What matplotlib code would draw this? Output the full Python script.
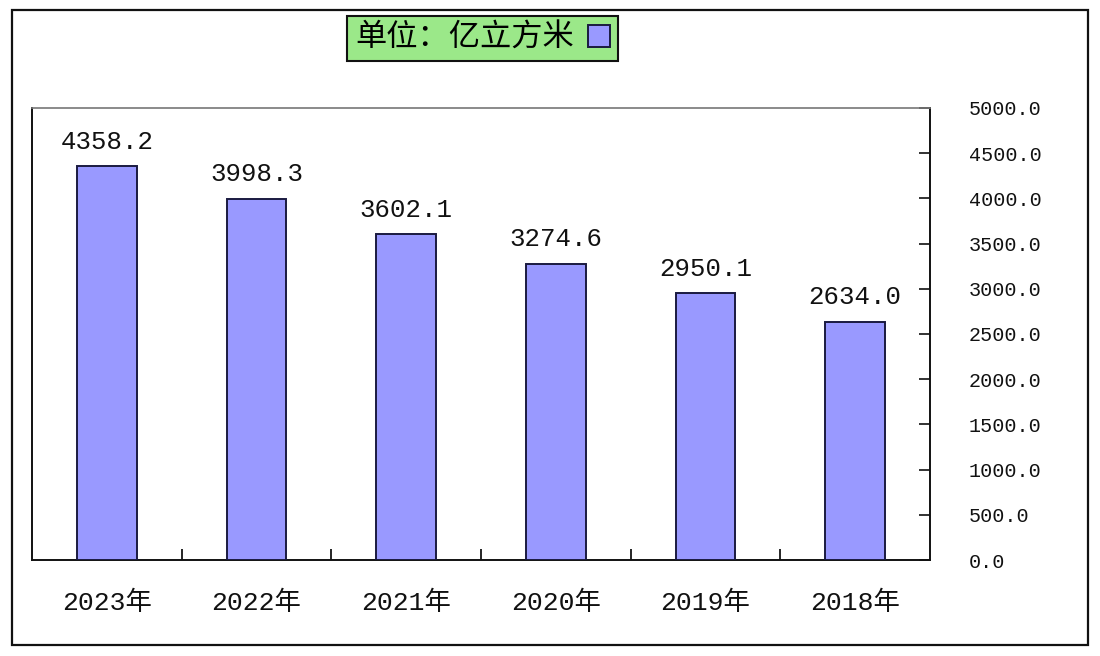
import matplotlib
matplotlib.use("Agg")
import matplotlib.pyplot as plt
from matplotlib.patches import Rectangle
from matplotlib.ticker import FixedLocator, FixedFormatter

# ---- data (layout mirrored as in the reference: newest year on the left) ----
years = ["2023年", "2022年", "2021年", "2020年", "2019年", "2018年"]
values = [4358.2, 3998.3, 3602.1, 3274.6, 2950.1, 2634.0]
y_ticks = [0, 500, 1000, 1500, 2000, 2500, 3000, 3500, 4000, 4500, 5000]
legend_label = "单位：亿立方米"

FONT = ["Liberation Mono", "Noto Sans CJK SC", "DejaVu Sans"]
plt.rcParams["font.family"] = FONT

W, H = 1100, 656
fig = plt.figure(figsize=(W / 100, H / 100), dpi=100)
fig.patch.set_facecolor("white")

# outer frame
fig.add_artist(Rectangle((12 / W, 1 - 645 / H), (1088 - 12) / W, (645 - 10) / H,
                         transform=fig.transFigure, fill=False,
                         edgecolor="#111111", lw=1.6))

ax = fig.add_axes([32 / W, 1 - 560 / H, (930 - 32) / W, (560 - 108) / H])
x = list(range(len(years)))
bars = ax.bar(x, values, width=0.4, color="#9999FF", edgecolor="#1a1a40",
              linewidth=1.4, label=legend_label, zorder=3)

ax.set_xlim(-0.5, len(years) - 0.5)
ax.set_ylim(0, 5000)

# y axis on the right
ax.yaxis.tick_right()
ax.set_yticks(y_ticks)
ax.set_yticklabels([f"{v:.1f}" for v in y_ticks])
ax.tick_params(axis="y", direction="in", length=8, width=1.2, pad=28,
               labelsize=14.5, colors="#111111", right=True, left=False)
for lab in ax.get_yticklabels():
    lab.set_horizontalalignment("left")

# x axis: ticks at category boundaries, labels at centres
ax.xaxis.set_major_locator(FixedLocator([i + 0.5 for i in range(len(years) - 1)]))
ax.xaxis.set_major_formatter(FixedFormatter([""] * (len(years) - 1)))
ax.xaxis.set_minor_locator(FixedLocator(x))
ax.xaxis.set_minor_formatter(FixedFormatter(years))
ax.tick_params(axis="x", which="major", direction="in", length=8, width=1.2)
ax.tick_params(axis="x", which="minor", length=0, pad=22, labelsize=19,
               colors="#111111")

for sp in ["left", "right", "bottom"]:
    ax.spines[sp].set_color("#111111")
    ax.spines[sp].set_linewidth(1.4)
ax.spines["top"].set_color("#777777")
ax.spines["top"].set_linewidth(1.2)

# value labels
for b, v in zip(bars, values):
    ax.annotate(f"{v:.1f}", (b.get_x() + b.get_width() / 2, v),
                xytext=(0, 9), textcoords="offset points",
                ha="center", va="bottom", fontsize=18.5, color="#111111")

# legend box (green)
leg = ax.legend(handles=[bars], labels=[legend_label], loc="center",
                bbox_to_anchor=((346 + 619) / 2 / W, 1 - (15 + 62) / 2 / H),
                bbox_transform=fig.transFigure, markerfirst=False,
                fancybox=False, framealpha=1, facecolor="#9BE889",
                edgecolor="#111111", prop={"family": FONT, "size": 22.5},
                handlelength=0.7, handleheight=0.7, handletextpad=0.45,
                borderpad=0.25, borderaxespad=0)
leg.get_frame().set_linewidth(1.5)

fig.savefig("out.png", dpi=100)
